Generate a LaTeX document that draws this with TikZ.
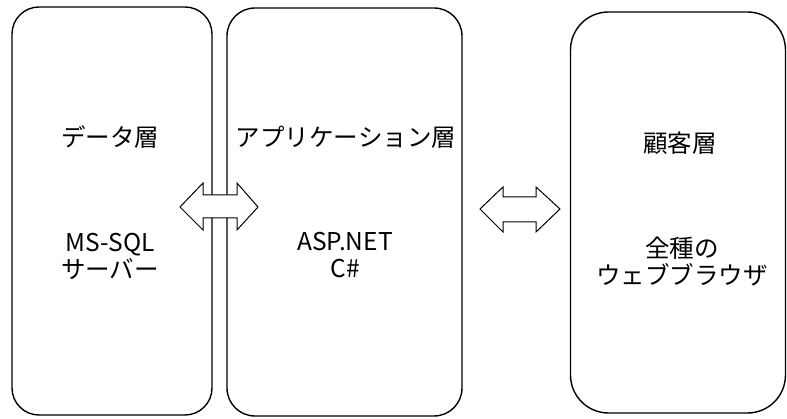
\documentclass[tikz,border=0pt]{standalone}
\usepackage{fontspec}
\setmainfont{Noto Sans CJK JP}
\begin{document}
\begin{tikzpicture}[x=1pt,y=-1pt,
  tier/.style={draw, line width=1.4pt, inner sep=0pt},
  label/.style={font=\fontsize{24.5}{27}\selectfont, align=center, inner sep=0pt},
  dbl/.style={draw, line width=1pt, fill=white, line join=miter}]
\useasboundingbox (0,0) rectangle (787,419);
\node[tier, rounded corners=27pt, minimum width=200pt, minimum height=408pt] (data) at (112,211) {};
\node[tier, rounded corners=28pt, minimum width=235pt, minimum height=408pt] (app) at (344.5,212) {};
\node[tier, rounded corners=38pt, minimum width=215pt, minimum height=401pt] (client) at (678,212.5) {};

\node[label] (dataT) at (110,137) {データ層};
\node[label] (appT) at (346,137) {アプリケーション層};
\node[label] (clientT) at (680,143) {顧客層};

\node[label] (dataS) at (110,256) {MS-SQL\\サーバー};
\node[label] (appS) at (345,255.5) {ASP.NET\\C\#};
\node[label] (clientS) at (682,261.5) {全種の\\ウェブブラウザ};

\draw[dbl] (180,207) -- (203,183) -- (203,195) -- (237,195) -- (237,183) -- (258,207)
  -- (237,230) -- (237,218) -- (203,218) -- (203,230) -- cycle;
\draw[dbl] (480,209) -- (503,187) -- (503,197) -- (536,197) -- (536,187) -- (560,209)
  -- (536,232) -- (536,222) -- (503,222) -- (503,232) -- cycle;
\end{tikzpicture}
\end{document}
